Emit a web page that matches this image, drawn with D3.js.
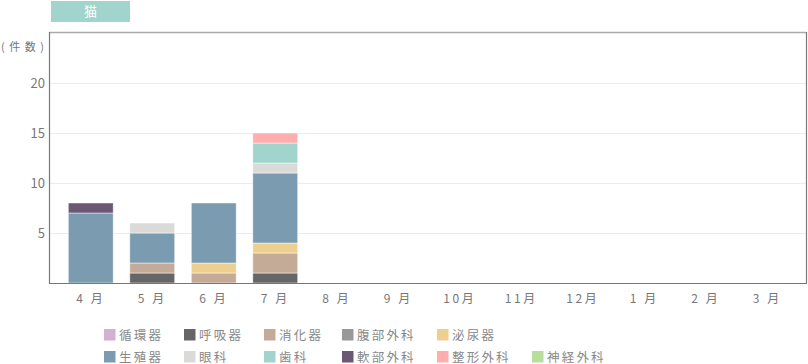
<!DOCTYPE html>
<html>
<head>
<meta charset="utf-8">
<script src="https://cdn.jsdelivr.net/npm/d3@7"></script>
<style>
  body { margin: 0; background: #fff; }
  svg { display: block; font-family: "Noto Sans CJK JP", "Noto Sans", sans-serif; }
</style>
</head>
<body>
<svg width="808" height="364"></svg>
<script>
var months = ['4月', '5月', '6月', '7月', '8月', '9月', '10月', '11月', '12月', '1月', '2月', '3月'];
var categories = ['循環器', '呼吸器', '消化器', '腹部外科', '泌尿器', '生殖器', '眼科', '歯科', '軟部外科', '整形外科', '神経外科'];
var colors = ['#d4b0d4', '#666666', '#c4ab98', '#999999', '#efcf8f', '#7b9bb0', '#dadad8', '#a0d4cc', '#6b5873', '#ffadad', '#b8dd9c'];

// 件数 per month, one array per category
var junkanki  = [0, 0, 0, 0, 0, 0, 0, 0, 0, 0, 0, 0];
var kokyuki   = [0, 1, 0, 1, 0, 0, 0, 0, 0, 0, 0, 0];
var shokaki   = [0, 1, 1, 2, 0, 0, 0, 0, 0, 0, 0, 0];
var fukubu    = [0, 0, 0, 0, 0, 0, 0, 0, 0, 0, 0, 0];
var hinyoki   = [0, 0, 1, 1, 0, 0, 0, 0, 0, 0, 0, 0];
var seishokki = [7, 3, 6, 7, 0, 0, 0, 0, 0, 0, 0, 0];
var ganka     = [0, 1, 0, 1, 0, 0, 0, 0, 0, 0, 0, 0];
var shika     = [0, 0, 0, 2, 0, 0, 0, 0, 0, 0, 0, 0];
var nanbu     = [1, 0, 0, 0, 0, 0, 0, 0, 0, 0, 0, 0];
var seikei    = [0, 0, 0, 1, 0, 0, 0, 0, 0, 0, 0, 0];
var shinkei   = [0, 0, 0, 0, 0, 0, 0, 0, 0, 0, 0, 0];

var yTicks = [5, 10, 15, 20];

var series = [junkanki, kokyuki, shokaki, fukubu, hinyoki, seishokki, ganka, shika, nanbu, seikei, shinkei];

var rows = months.map(function(m, i) {
    var row = { month: m };
    categories.forEach(function(c, j) { row[c] = series[j][i]; });
    return row;
});

var svg = d3.select('svg');
var plotLeft = 49, plotRight = 806, plotTop = 32, plotBottom = 283;

var x = d3.scaleBand()
    .domain(months)
    .range([60, 798])
    .paddingInner(0.27)
    .paddingOuter(0.135);

var y = d3.scaleLinear()
    .domain([0, 25])
    .range([plotBottom, plotBottom - 250]);

var color = d3.scaleOrdinal().domain(categories).range(colors);

// title badge
svg.append('rect')
    .attr('x', 51).attr('y', 1).attr('width', 79).attr('height', 21)
    .attr('fill', '#a0d4cc');
svg.append('text')
    .attr('x', 90.5).attr('y', 16)
    .attr('text-anchor', 'middle')
    .attr('fill', '#fff')
    .attr('font-size', 13)
    .text('猫');

// grid lines
svg.append('g')
    .selectAll('line')
    .data(yTicks)
    .enter()
    .append('line')
    .attr('x1', plotLeft).attr('x2', plotRight)
    .attr('y1', function(d) { return y(d) + 0.5; })
    .attr('y2', function(d) { return y(d) + 0.5; })
    .attr('stroke', '#ececec');

// y axis labels
var yAxis = d3.axisLeft(y).tickValues(yTicks).tickSize(0).tickPadding(4);
var yg = svg.append('g')
    .attr('transform', 'translate(' + plotLeft + ',0)')
    .call(yAxis);
yg.select('.domain').remove();
yg.selectAll('text')
    .attr('font-family', '"Noto Sans CJK JP", sans-serif')
    .attr('font-size', 13)
    .attr('fill', '#777');

svg.append('text')
    .attr('x', 1).attr('y', 51)
    .attr('font-size', 11)
    .attr('textLength', 43)
    .attr('lengthAdjust', 'spacing')
    .attr('fill', '#777')
    .text('( 件 数 )');

// stacked bars
var stacked = d3.stack().keys(categories)(rows);

svg.append('g')
    .selectAll('g')
    .data(stacked)
    .enter()
    .append('g')
    .attr('fill', function(s) { return color(s.key); })
    .selectAll('rect')
    .data(function(s) { return s.filter(function(d) { return d[1] > d[0]; }); })
    .enter()
    .append('rect')
    .attr('x', function(d) { return x(d.data.month); })
    .attr('width', x.bandwidth())
    .attr('y', function(d) { return y(d[1]); })
    .attr('height', function(d) { return y(d[0]) - y(d[1]); })
    .attr('stroke', '#fff')
    .attr('stroke-opacity', 0.6)
    .attr('stroke-width', 0.8);

// frame
svg.append('line')
    .attr('x1', plotLeft).attr('x2', plotRight).attr('y1', plotTop + 0.5).attr('y2', plotTop + 0.5)
    .attr('stroke', '#aaa').attr('stroke-width', 1.5);
svg.append('path')
    .attr('d', 'M' + (plotLeft + 0.5) + ',' + plotTop + 'V' + (plotBottom + 0.5) + 'H' + (plotRight + 0.5) + 'V' + plotTop)
    .attr('fill', 'none')
    .attr('stroke', '#777')
    .attr('stroke-width', 1.2);

// x axis labels
var xAxis = d3.axisBottom(x).tickSize(0).tickPadding(11);
var xg = svg.append('g')
    .attr('transform', 'translate(0,' + plotBottom + ')')
    .call(xAxis);
xg.select('.domain').remove();
xg.selectAll('text')
    .attr('font-family', '"Noto Sans CJK JP", sans-serif')
    .attr('font-size', 12)
    .attr('letter-spacing', 2.5)
    .attr('fill', '#777')
    .text(function(d) { return d.length == 2 ? d.charAt(0) + ' ' + d.charAt(1) : d; });

// legend, two rows laid out in columns
var colX = [104, 184, 264, 342, 437, 532];
var legend = svg.append('g')
    .selectAll('g')
    .data(categories)
    .enter()
    .append('g')
    .attr('transform', function(c, i) {
        var row = i < 5 ? 0 : 1;
        var col = i < 5 ? i : i - 5;
        return 'translate(' + colX[col] + ',' + (329 + row * 22) + ')';
    });
legend.append('rect')
    .attr('width', 11.5).attr('height', 11.5)
    .attr('fill', function(c) { return color(c); });
legend.append('text')
    .attr('x', 15).attr('y', 10.5)
    .attr('font-size', 12.5)
    .attr('letter-spacing', 2.2)
    .attr('fill', '#888')
    .text(function(c) { return c; });
</script>
</body>
</html>
